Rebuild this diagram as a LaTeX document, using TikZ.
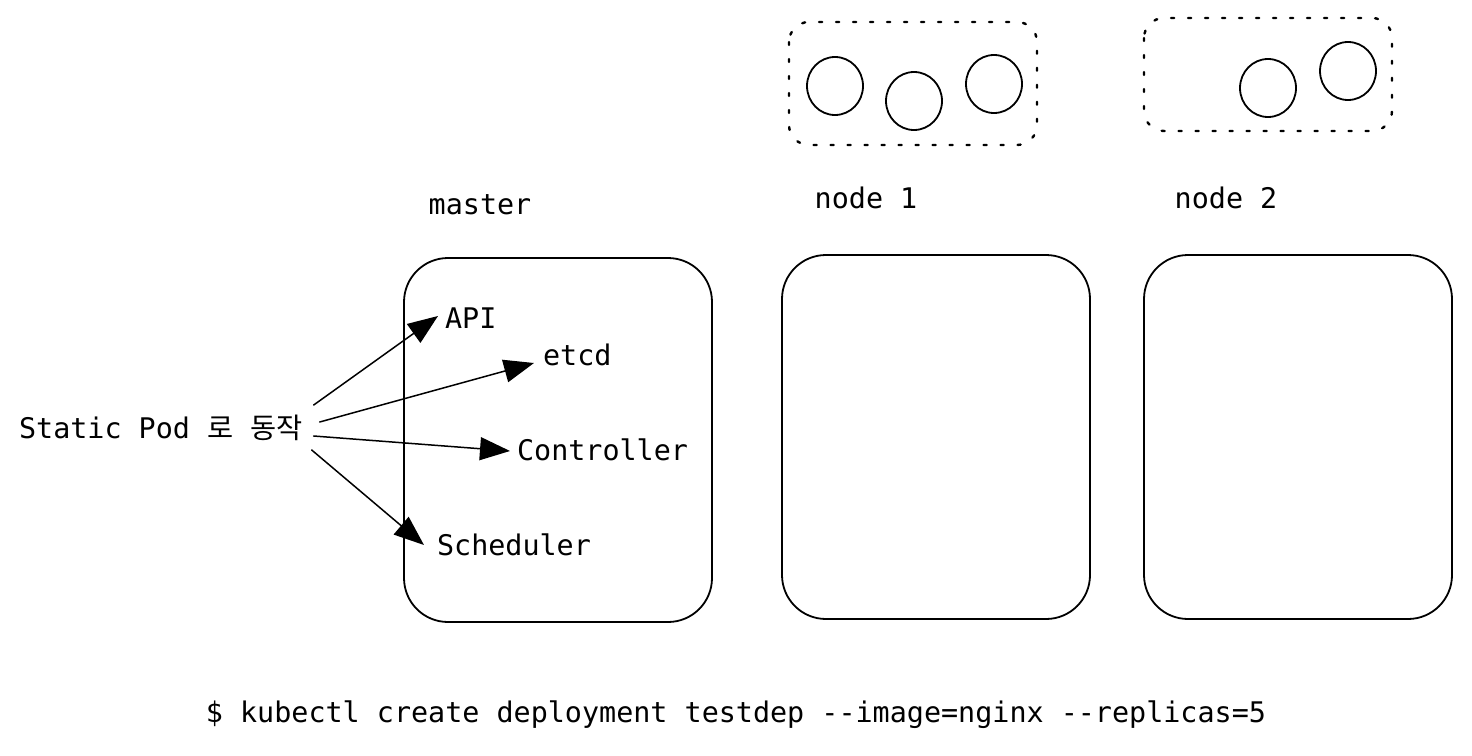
\documentclass[tikz,border=0pt]{standalone}
\usepackage{fontspec}
\setmonofont{DejaVu Sans Mono}
\newfontfamily\kofont{Noto Sans CJK KR}
\usetikzlibrary{arrows.meta,shapes.geometric}
\begin{document}
\begin{tikzpicture}[x=0.5pt,y=-0.5pt,line join=round,line cap=round,>={Triangle[length=15pt,width=11.5pt]}]
			\tikzset{every node/.style={font=\ttfamily\fontsize{14.2}{17}\selectfont},
				hostbox/.style={draw,line width=0.9pt,rounded corners=22pt,minimum width=154pt,minimum height=182pt},
				podgroup/.style={draw,line width=1.2pt,dash pattern=on 1.5pt off 7pt,rounded corners=10pt},
				pod/.style={draw,line width=0.9pt,ellipse,minimum width=28pt,minimum height=29pt,inner sep=0pt},
				link/.style={->,line width=0.75pt}}
			\useasboundingbox (0,0) rectangle (1472,755);
			% hosts
			\node[hostbox] (masterbox) at (558,440) {};
			\node[hostbox] (nodeonebox) at (936,437) {};
			\node[hostbox] (nodetwobox) at (1298,437) {};
			\node (masterlabel) at (480,205) {master};
			\node (nodeonelabel) at (866,198) {node 1};
			\node (nodetwolabel) at (1226,198) {node 2};
			% pods
			\draw[podgroup] (789,22) rectangle (1037,145);
			\draw[podgroup] (1144,18) rectangle (1392,131);
			\foreach \x/\y [count=\i] in {835/86,914/101,994/84,1268/88,1348/71}
			\node[pod] (pod\i) at (\x,\y) {};
			% components
			\node[anchor=west] (api) at (438,318) {API};
			\node[anchor=west] (etcd) at (536,355) {etcd};
			\node[anchor=west] (controller) at (510,450) {Controller};
			\node[anchor=west] (scheduler) at (430,545) {Scheduler};
			\node[anchor=west] (static) at (12,428) {Static Pod {\kofont 로}\ {\kofont 동작}};
			\draw[link] ([shift={(2pt,11.5pt)}]static.east) -- ([yshift=1pt]api.west);
			\draw[link] ([shift={(5pt,3pt)}]static.east) -- ([shift={(-1pt,-4pt)}]etcd.west);
			\draw[link] ([shift={(2pt,-4pt)}]static.east) -- ([yshift=-0.5pt]controller.west);
			\draw[link] ([shift={(1pt,-11pt)}]static.east) -- ([shift={(-3pt,0pt)}]scheduler.west);
			% command
			\node (command) at (736,715) {\$ kubectl create deployment testdep --image=nginx --replicas=5};
	\end{tikzpicture}
\end{document}
